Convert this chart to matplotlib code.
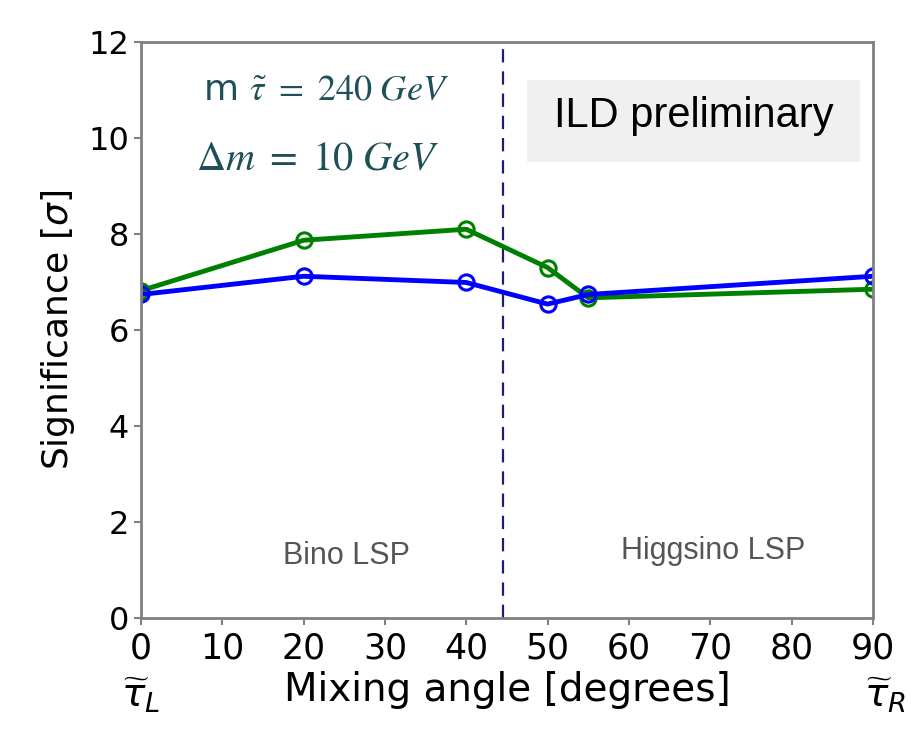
import matplotlib
matplotlib.use("Agg")
import matplotlib.pyplot as plt
from matplotlib.patches import Rectangle

plt.rcParams['font.family'] = ['DejaVu Sans']

angles = [0, 20, 40, 50, 55, 90]
sig_blue = [6.74, 7.12, 6.99, 6.54, 6.74, 7.12]
sig_green = [6.82, 7.87, 8.10, 7.30, 6.67, 6.85]
divider = 44.5
xticks = [0, 10, 20, 30, 40, 50, 60, 70, 80, 90]
yticks = [0, 2, 4, 6, 8, 10, 12]

fig = plt.figure(figsize=(9.13, 7.31), dpi=100)
ax = fig.add_axes([0.1544, 0.1546, 0.8017, 0.7879])

ax.plot(angles, sig_green, color='green', lw=3.5, marker='o', ms=11, mfc='none', mew=2.2)
ax.plot(angles, sig_blue, color='blue', lw=3.5, marker='o', ms=11, mfc='none', mew=2.2)
ax.axvline(divider, color='#1c1c7a', lw=1.6, ls=(0, (6, 4)))

ax.set_xlim(0, 90)
ax.set_ylim(0, 12)
ax.set_xticks(xticks)
ax.set_yticks(yticks)
ax.tick_params(labelsize=23, color='#808080', width=1.5, length=5)
ax.tick_params(axis='x', labelsize=25, pad=5)
for s in ax.spines.values():
    s.set_color('#808080')
    s.set_linewidth(2)

ax.set_xlabel('Mixing angle [degrees]', fontsize=28, labelpad=4)
ax.set_ylabel(r'Significance [$\sigma$]', fontsize=26, labelpad=8)

fig.text(141/913, 1-695/731, r'$\widetilde{\tau}_L$', fontsize=28, ha='center', va='center')
fig.text(885/913, 1-695/731, r'$\widetilde{\tau}_R$', fontsize=28, ha='center', va='center')

teal = '#1f4f58'
fig.text(326/913, 1-90/731, r'm $\tilde{\tau}\ =\ 240\ GeV$', fontsize=26, color=teal,
         ha='center', va='center', math_fontfamily='stix')
fig.text(318/913, 1-158/731, r'$\Delta m\ =\ 10\ GeV$', fontsize=29, color=teal,
         ha='center', va='center', math_fontfamily='stix')

fig.patches.append(Rectangle((527/913, 1-162/731), (860-527)/913, (162-80)/731,
                             transform=fig.transFigure, facecolor='#f0f0f0', edgecolor='none', zorder=0))
fig.text(694/913, 1-116/731, 'ILD preliminary', fontsize=30, family='Liberation Sans',
         ha='center', va='center', zorder=3)

fig.text(346/913, 1-556/731, 'Bino LSP', fontsize=22, family='Liberation Sans', color='#555555',
         ha='center', va='center')
fig.text(713/913, 1-551/731, 'Higgsino LSP', fontsize=22, family='Liberation Sans', color='#555555',
         ha='center', va='center')

fig.savefig('out.png', dpi=100)
